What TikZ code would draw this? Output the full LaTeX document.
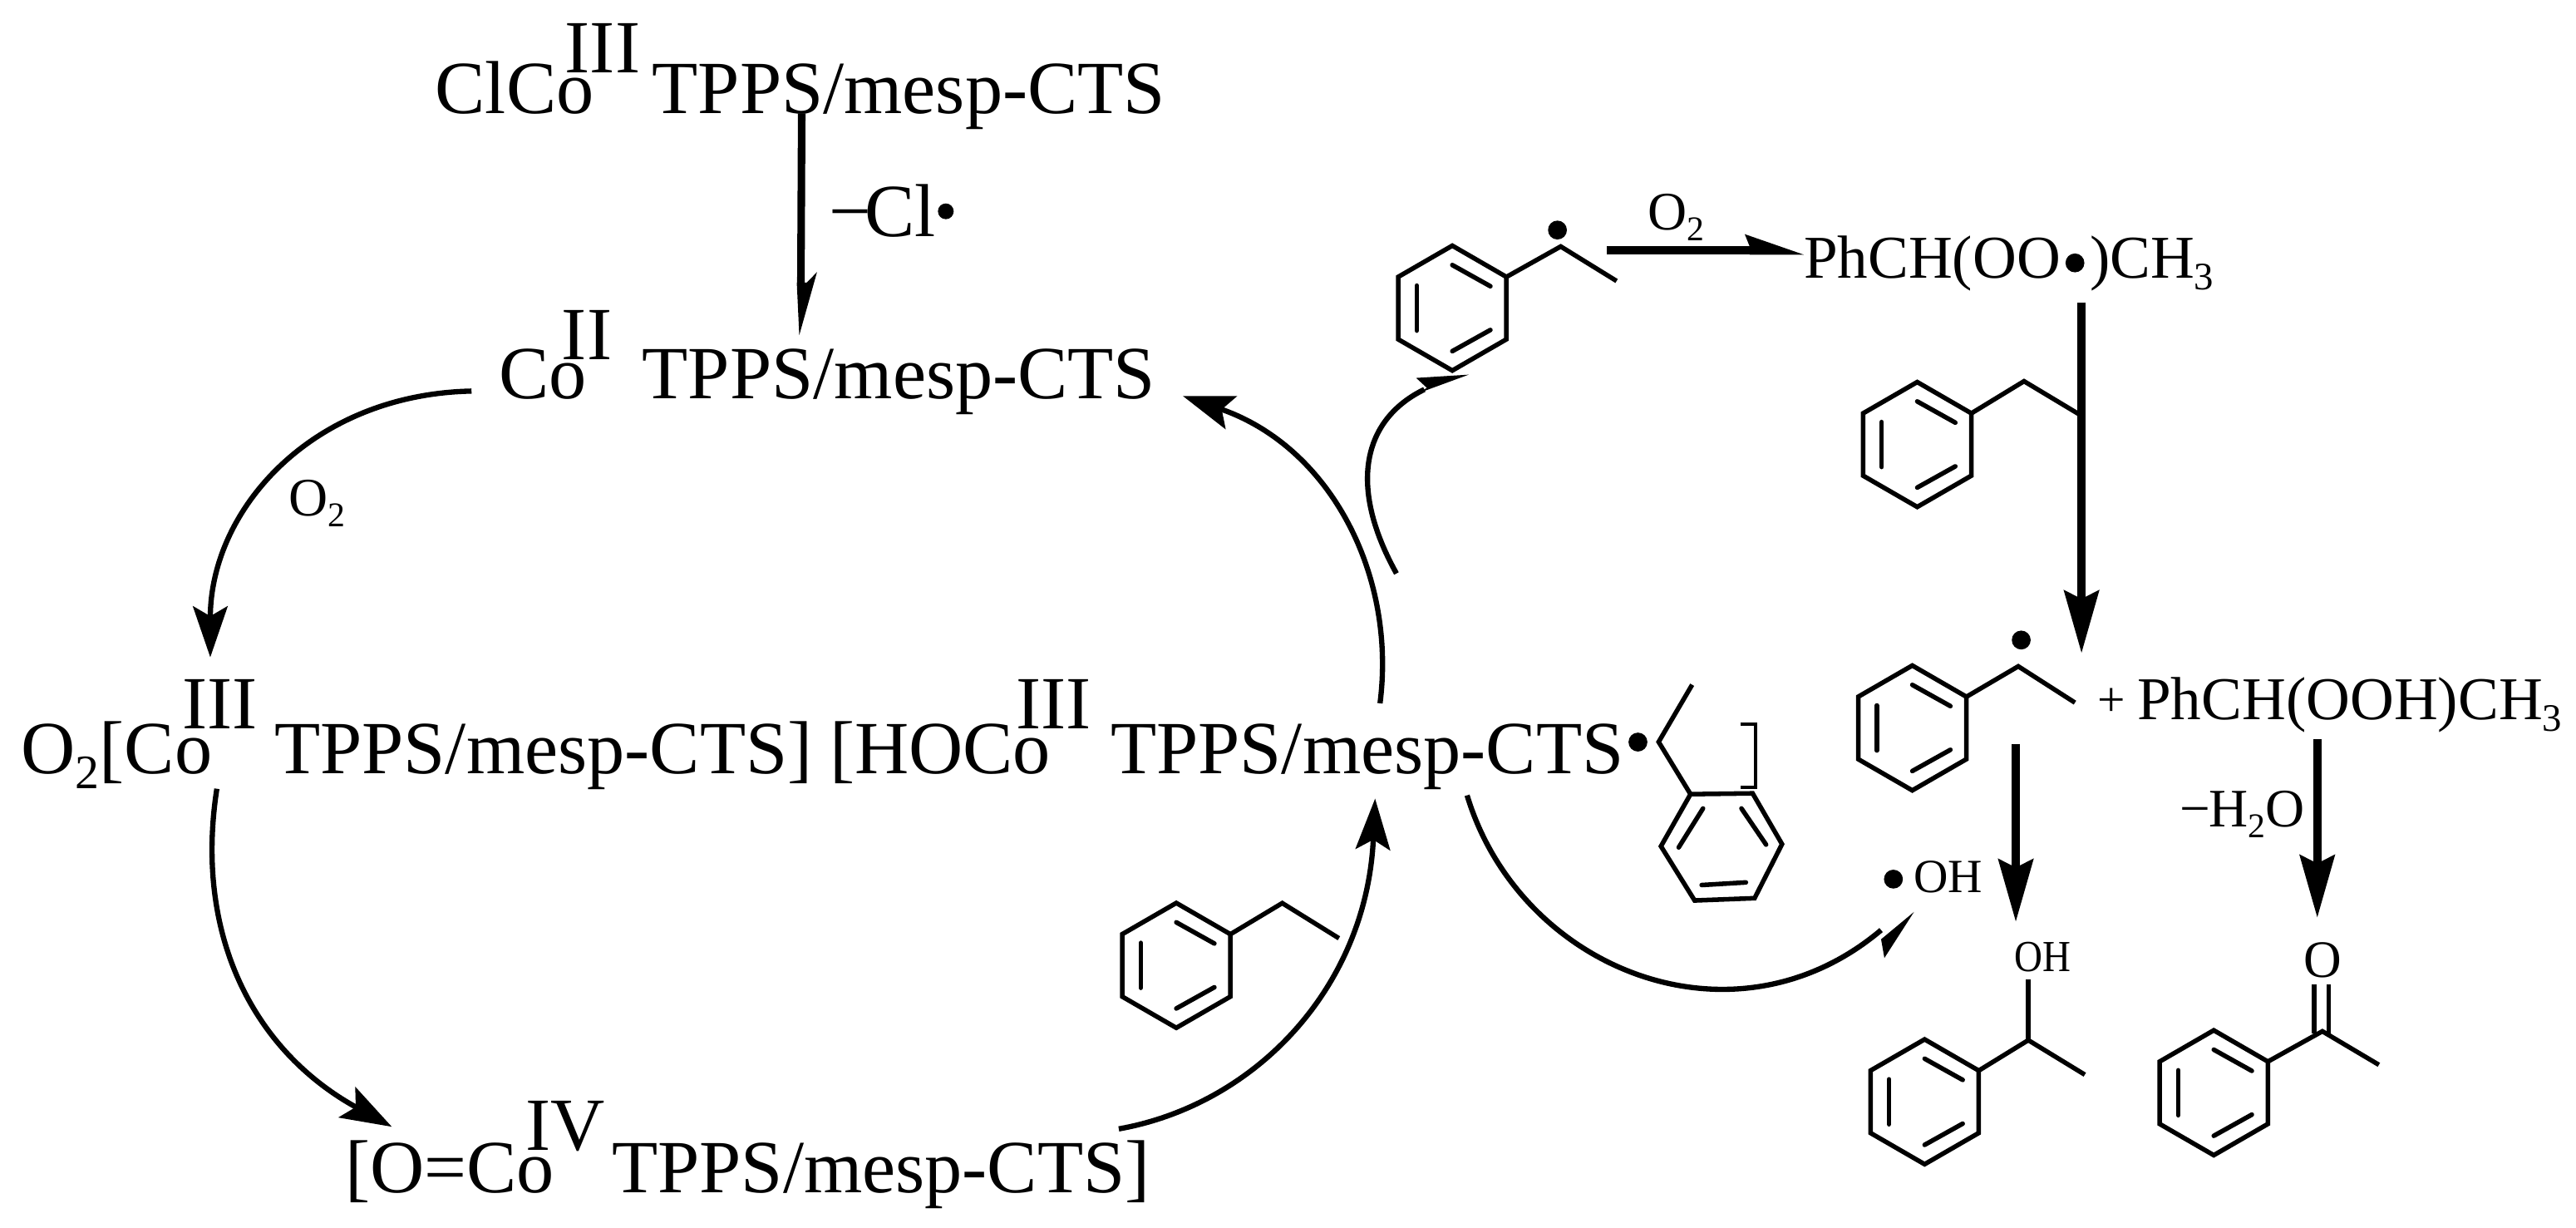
\documentclass[tikz,border=0pt]{standalone}
\usepackage{graphicx}
\usepackage{fontspec}
\setmainfont{Liberation Serif}
\usetikzlibrary{arrows.meta}
\newcommand\sbs[1]{\raisebox{-.2em}{\scalebox{.64}{#1}}}
\newcommand\fs[1]{\fontsize{#1}{#1}\selectfont}
\tikzset{
  txt/.style={anchor=base west,inner sep=0pt,outer sep=0pt,font=\fs{45.7}},
  med/.style={txt,font=\fs{37}},
  sml/.style={txt,font=\fs{33}},
  rad/.style={circle,fill=black,inner sep=0pt,minimum size=#1},
  rad/.default=11.5pt,
  bond/.style={line width=2.8pt,line join=miter,line cap=butt},
  inner/.style={line width=2.8pt,line cap=round},
  curve/.style={line width=3.2pt,-{Stealth[length=31pt,width=21pt,inset=6pt]}},
  plainarc/.style={line width=3.2pt},
  thick arrow/.style={line width=5pt,-{Stealth[length=38pt,width=21pt,inset=5pt]}},
}
% pointy-top benzene
\newcommand\benz[4]{%
  \begin{scope}[shift={(#1,#2)},x=#3pt,y=-#4pt]
    \draw[bond] (0,1)--(.866,.5)--(.866,-.5)--(0,-1)--(-.866,-.5)--(-.866,.5)--cycle;
    \draw[inner] (-.57,.36)--(-.57,-.36);
    \draw[inner] (0,.69)--(.61,.35);
    \draw[inner] (0,-.69)--(.61,-.35);
  \end{scope}}
\begin{document}
\begin{tikzpicture}[x=1pt,y=-1pt]
\useasboundingbox (0,0) rectangle (1568,747);
% --- texts
\node[txt] (clco) at (265,69) {ClCo};
\node[txt] (clcoIII) at (344,44.4) {III};
\node[txt] (t1) at (397,69) {TPPS/mesp-CTS};
\node[txt] (mcl) at (504.6,144) {−\kern-4pt Cl};
\node[rad=9.6pt] (dcl) at (575.7,128.6) {};
\node[txt] (co2) at (303.7,242.5) {Co};
\node[txt] (coII) at (342,219) {II};
\node[txt] (t2) at (391,242.5) {TPPS/mesp-CTS};
\node[sml] (o2a) at (176,314) {O\sbs{2}};
\node[txt] (o2co) at (13,471) {O\sbs{2}[Co};
\node[txt] (o2III) at (111,443.6) {III};
\node[txt] (t3) at (167,471) {TPPS/mesp-CTS]};
\node[txt] (hoco) at (505,471) {[HOCo};
\node[txt] (hoIII) at (618.6,443.6) {III};
\node[txt] (t4) at (676,471) {TPPS/mesp-CTS};
\node[rad] (d4) at (997,451.6) {};
\node[txt] (oco) at (210,725.7) {[O=Co};
\node[txt] (oIV) at (320,700) {IV};
\node[txt] (t5) at (372.5,725.7) {TPPS/mesp-CTS]};
\node[sml] (o2b) at (1003,140) {O\sbs{2}};
\node[med] (ph1) at (1098,169) {PhCH(OO};
\node[rad] (d1) at (1263,160) {};
\node[med] (ph1b) at (1272,169) {)CH\sbs{3}};
\node[med,font=\fs{30}] (plus) at (1277,436) {+};
\node[med] (ph2) at (1301,437.8) {PhCH(OOH)CH\sbs{3}};
\node[sml] (mh2o) at (1327,503) {−\kern-1pt H\sbs{2}O};
\node[rad] (d5) at (1152.5,535) {};
\node[sml,font=\fs{29}] (oh1) at (1165,543) {OH};
\node[sml,font=\fs{27}] (oh2) at (1226,591) {\scalebox{.88}[1]{OH}};
\node[med,font=\fs{32},anchor=base] (ok) at (1414,595) {O};
% --- ring structures
\benz{884}{187.5}{38}{38}
\draw[bond] (917,168.5)--(950,150)--(984,171);
\node[rad] (d2) at (948,140) {};
\benz{1167}{270.5}{38}{38}
\draw[bond] (1200,251.5)--(1232,232)--(1267,253);
\benz{1164}{443}{38}{38}
\draw[bond] (1197,424)--(1228.5,405.5)--(1263,427.6);
\node[rad] (d3) at (1230.3,389.5) {};
\benz{716}{587.5}{38}{38}
\draw[bond] (749,568.5)--(780.5,549.6)--(815,571);
\benz{1171.5}{670.5}{38}{38}
\draw[bond] (1204.5,651.5)--(1234.6,633)--(1269,654);
\draw[bond] (1234.6,596)--(1234.6,633);
\benz{1347.5}{665}{38}{38}
\draw[bond] (1380.5,646)--(1413.6,627.6)--(1448,648);
\draw[bond] (1408.5,599)--(1408.5,629);
\draw[bond] (1417.5,599)--(1417.5,629);
% tilted ring
\draw[bond] (1030,416.7)--(1009.6,451.5)--(1029,483.3);
\draw[bond] (1029,483.3)--(1066.8,482.8)--(1084.7,513.7)--(1068,546.6)--(1031.5,548)--(1011,515)--cycle;
\draw[inner] (1036.6,492)--(1021.8,515.7);
\draw[inner] (1060,492)--(1075,514);
\draw[inner] (1035.8,538.6)--(1062.7,537);
\draw[line width=2pt] (1059.3,440.6)--(1068.7,440.6)--(1068.7,479)--(1059.3,479);
% --- connectors
\coordinate (a1s) at (488,69); \coordinate (a1m) at (487.5,172); \coordinate (a1e) at (486.5,204);
\draw[line width=4.6pt] (a1s)--(a1m);
\fill (a1e)--(497.3,165.6)--(491,172)--(485,172)--cycle;
\coordinate (a2s) at (287,238); \coordinate (a2e) at (128,400);
\draw[curve] (a2s) .. controls (190,240) and (128,310) .. (a2e);
\coordinate (a3s) at (132,480); \coordinate (a3e) at (238.5,685.7);
\draw[curve] (a3s) .. controls (118,570) and (155,640) .. (a3e);
\coordinate (a4s) at (681,687); \coordinate (a4e) at (837,486);
\draw[curve] (a4s) .. controls (765,672) and (832,600) .. (a4e);
\coordinate (a5s) at (840,428); \coordinate (a5e) at (720,241);
\draw[curve] (a5s) .. controls (850,350) and (810,272) .. (a5e);
\coordinate (a6s) at (850,349); \coordinate (a6e) at (867,237);
\draw[plainarc] (a6s) .. controls (820,295) and (830,255) .. (a6e);
\fill (894,228)--(862,230)--(868.5,236)--(864,239)--cycle;
\coordinate (a7s) at (893,484); \coordinate (a7e) at (1145,566);
\draw[plainarc] (a7s) .. controls (925,590) and (1055,642) .. (a7e);
\fill (1165,555)--(1147,583)--(1145,571.6)--cycle;
\coordinate (a8s) at (978,152.5); \coordinate (a8e) at (1066,152.5);
\draw[line width=5pt] (a8s)--(a8e);
\fill (1098,155)--(1062,142.5)--(1065,150)--(1065,155)--cycle;
\coordinate (a9s) at (1267,184); \coordinate (a9e) at (1267,397.5);
\draw[thick arrow] (a9s)--(a9e);
\coordinate (a10s) at (1227,452.6); \coordinate (a10e) at (1227,561);
\draw[thick arrow] (a10s)--(a10e);
\coordinate (a11s) at (1410.5,449.7); \coordinate (a11e) at (1410.5,558.5);
\draw[thick arrow] (a11s)--(a11e);
\end{tikzpicture}
\end{document}
